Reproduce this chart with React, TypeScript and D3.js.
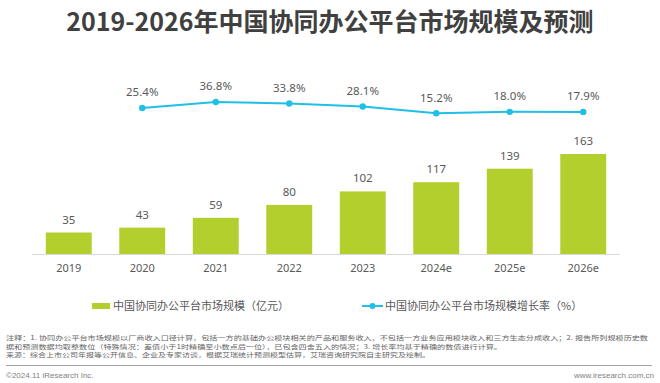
import React from "react";
import * as d3 from "d3";

const categories = ["2019", "2020", "2021", "2022", "2023", "2024e", "2025e", "2026e"];
const marketSize = [35, 43, 59, 80, 102, 117, 139, 163];
const growthCats = ["2020", "2021", "2022", "2023", "2024e", "2025e", "2026e"];
const growthRate = [25.4, 36.8, 33.8, 28.1, 15.2, 18.0, 17.9];

const title = "2019-2026年中国协同办公平台市场规模及预测";
const legendBar = "中国协同办公平台市场规模（亿元）";
const legendLine = "中国协同办公平台市场规模增长率（%）";
const notes = [
  "注释：1. 协同办公平台市场规模以厂商收入口径计算，包括一方的基础办公模块相关的产品和服务收入，不包括一方业务应用模块收入和三方生态分成收入；2. 报告所列规模历史数",
  "据和预测数据均取整数位（特殊情况：差值小于1时精确至小数点后一位），已包含四舍五入的情况；3. 增长率均基于精确的数值进行计算。",
  "来源：综合上市公司年报等公开信息、企业及专家访谈，根据艾瑞统计预测模型估算，艾瑞咨询研究院自主研究及绘制。",
];
const noteWidths = [642, 496, 424];
const copyright = "©2024.11 iResearch Inc.";
const website = "www.iresearch.com.cn";

const BAR = "#b2cf2e";
const LINE = "#1fbfe8";
const TXT = "#595959";
const FONT = "'Noto Sans', 'Noto Sans CJK SC', sans-serif";
const CJK = "'Noto Sans CJK SC', 'Noto Sans', sans-serif";

export default function App() {
  const W = 660, H = 383;
  const x = d3.scaleBand<string>().domain(categories).range([32, 620]).paddingInner(0.375).paddingOuter(0.1875);
  const y = d3.scaleLinear().domain([0, 163]).range([254, 154]);
  const y2 = d3.scaleLinear().domain([0, 40]).range([121.3, 100.3]);
  const cx = (c: string) => (x(c) as number) + x.bandwidth() / 2;

  const lineGen = d3.line<number>()
    .x((_, i) => cx(growthCats[i]))
    .y((d) => y2(d));

  return (
    <svg width={W} height={H} style={{ position: "absolute", left: 0, top: 0, background: "#fff" }}>
      <rect width={W} height={H} fill="#fff" />
      <text x={330} y={31} textAnchor="middle" fontFamily={CJK} fontWeight="bold" fontSize={25} fill="#404040">{title}</text>

      {categories.map((c, i) => (
        <g key={c}>
          <rect x={x(c)} y={y(marketSize[i])} width={x.bandwidth()} height={y(0) - y(marketSize[i])} fill={BAR} />
          <text x={cx(c)} y={y(marketSize[i]) - 9} textAnchor="middle" fontFamily={FONT} fontSize={11.5} fill={TXT}>{marketSize[i]}</text>
          <text x={cx(c)} y={272} textAnchor="middle" fontFamily={FONT} fontSize={11} fill={TXT}>{c}</text>
        </g>
      ))}
      <line x1={32} x2={620} y1={254.5} y2={254.5} stroke="#d9d9d9" strokeWidth={1} />

      <path d={lineGen(growthRate) || ""} fill="none" stroke={LINE} strokeWidth={2} />
      {growthRate.map((v, i) => (
        <g key={growthCats[i]}>
          <circle cx={cx(growthCats[i])} cy={y2(v)} r={3.2} fill={LINE} />
          <text x={cx(growthCats[i])} y={y2(v) - 11.5} textAnchor="middle" fontFamily={FONT} fontSize={11.5} fill={TXT}>{v.toFixed(1)}%</text>
        </g>
      ))}

      <rect x={92} y={303} width={18} height={6} fill={BAR} />
      <text x={113} y={310} fontFamily={CJK} fontSize={11} fill={TXT}>{legendBar}</text>
      <line x1={362} x2={383} y1={306} y2={306} stroke={LINE} strokeWidth={2} />
      <circle cx={372.5} cy={306} r={3} fill={LINE} />
      <text x={385} y={310} fontFamily={CJK} fontSize={11} fill={TXT}>{legendLine}</text>

      {notes.map((n, i) => (
        <text key={i} x={6} y={340 + i * 8.6} fontFamily={CJK} fontSize={6} fill="#666" textLength={noteWidths[i]} lengthAdjust="spacingAndGlyphs">{n}</text>
      ))}
      <line x1={6} x2={652} y1={365.5} y2={365.5} stroke="#a6a6a6" strokeWidth={1} />
      <text x={6} y={378} fontFamily="'Liberation Sans', Arial, sans-serif" fontSize={8} fill="#7f7f7f">{copyright}</text>
      <text x={654} y={378} textAnchor="end" fontFamily="'Liberation Sans', Arial, sans-serif" fontSize={8} fill="#7f7f7f">{website}</text>
    </svg>
  );
}
